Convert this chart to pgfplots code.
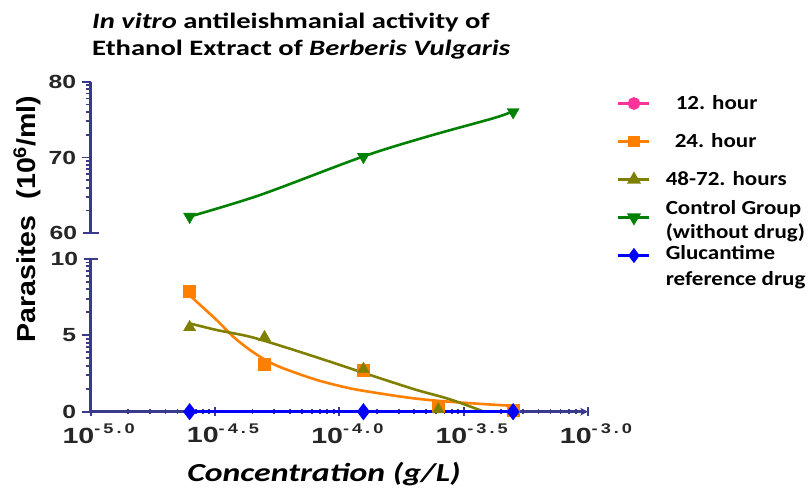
\documentclass[border=0pt]{standalone}
\usepackage{fontspec}
\setmainfont{Liberation Sans}
\newfontfamily\carl[FakeStretch=1.3]{Carlito}
\newfontfamily\carlleg[FakeStretch=1.15]{Carlito}
\newfontfamily\tickf[FakeStretch=1.3]{Liberation Sans}
\newfontfamily\ylabf[FakeStretch=1.1]{Liberation Sans}
\usepackage{pgfplots}
\pgfplotsset{compat=1.18}

\definecolor{navy}{RGB}{58,58,140}
\definecolor{c12}{RGB}{255,51,153}
\definecolor{c24}{RGB}{255,128,0}
\definecolor{c48}{RGB}{128,128,0}
\definecolor{cctl}{RGB}{0,128,0}
\definecolor{cglu}{RGB}{0,0,255}

% Prism style log label: 10^{-5.0}
\newcommand\expo[2]{10\raisebox{9.5pt}{\fontsize{14}{14}\selectfont-\hspace{3pt}#1\hspace{3pt}.\hspace{3pt}#2}}

\pgfplotsset{
  prism/.style={
    scale only axis, width=497.3pt, clip=false,
    xmin=1e-5, xmax=1e-3,
    axis y line=left,
    axis line style={navy, line width=2.4pt, -},
    x axis line style={-}, y axis line style={-},
    tick style={navy, line width=1.8pt},
    major tick length=9pt, minor tick length=5pt,
    tick align=outside,
    yticklabel style={font=\tickf\bfseries\fontsize{19}{19}\selectfont, text=black!85, xshift=-2pt},
    /pgf/number format/assume math mode=true,
  },
}

\begin{document}
\begin{tikzpicture}

% upper segment 60-80
\begin{semilogxaxis}[prism, at={(90.7pt,258.7pt)}, anchor=south west, height=151.6pt,
  ymin=60, ymax=80, axis x line=none,
  ytick={70,80},
  minor ytick={63.0103,64.7712,66.0206,66.9897,67.7815,68.4510,69.0309,69.5424,
               73.0103,74.7712,76.0206,76.9897,77.7815,78.4510,79.0309,79.5424},
  extra y ticks={60}, extra y tick style={tick align=center, major tick length=16pt},
  legend cell align=left,
  legend style={at={(axis description cs:1.0583,0.9004)}, anchor=north west,
    draw=none, fill=none, inner sep=0pt, row sep=25pt, column sep=15pt,
    nodes={inner sep=0pt, text height=13pt, text depth=0pt,
           font=\carlleg\bfseries\fontsize{20}{24}\selectfont}},
  legend image code/.code={\draw[mark repeat=2,mark phase=2,#1]
    plot coordinates {(0pt,0pt) (15.5pt,0pt) (31pt,0pt)};},
]
\addplot[cctl, line width=2.6pt, smooth, forget plot] coordinates {
  (2.492e-5,62.19) (4.8e-5,65.05) (1.239e-4,70.1) (2.247e-4,72.74) (4.152e-4,75.17) (4.95e-4,76.04)};
\addplot[cctl, only marks, mark=triangle*, mark size=7pt, mark options={rotate=180}, forget plot] coordinates {
  (2.5e-5,62.2) (1.25e-4,70.1) (5e-4,76.0)};

\addlegendimage{c12, line width=2.6pt, mark=*, mark size=5pt}
\addlegendentry{\hspace{10pt}12. hour}
\addlegendimage{c24, line width=2.6pt, mark=square*, mark size=4.5pt}
\addlegendentry{\hspace{9pt}24. hour}
\addlegendimage{c48, line width=2.6pt, mark=triangle*, mark size=5.5pt}
\addlegendentry{48-72. hours}
\addlegendimage{cctl, line width=2.6pt, mark=triangle*, mark size=5.5pt, mark options={rotate=180}}
\addlegendentry{\raisebox{9pt}{\begin{tabular}[t]{@{}l@{}}Control Group\\(without drug)\end{tabular}}}
\addlegendimage{cglu, line width=2.6pt, mark=diamond*, mark size=5.5pt}
\addlegendentry{\raisebox{2pt}{\begin{tabular}[t]{@{}l@{}}Glucantime\\[2pt]reference drug\end{tabular}}}
\end{semilogxaxis}

% lower segment 0-10
\begin{semilogxaxis}[prism, at={(90.7pt,80.3pt)}, anchor=south west, height=152.7pt,
  ymin=0, ymax=10, axis x line=bottom,
  ytick={0,5},
  minor ytick={1.5051,2.3856,3.0103,3.4949,3.8908,4.2255,4.5154,4.7712,
               6.5051,7.3856,8.0103,8.4949,8.8908,9.2255,9.5154,9.7712},
  extra y ticks={10}, extra y tick style={tick align=center, major tick length=14pt},
  xtick={1e-5,3.16228e-5,1e-4,3.16228e-4,1e-3},
  xticklabels={\expo{5}{0},\expo{4}{5},\expo{4}{0},\expo{3}{5},\expo{3}{0}},
  minor xtick={1.41421e-5,1.73205e-5,2e-5,2.23607e-5,2.44949e-5,2.64575e-5,2.82843e-5,3e-5,
               4.47214e-5,5.47723e-5,6.32456e-5,7.07107e-5,7.74597e-5,8.36660e-5,8.94427e-5,9.48683e-5,
               1.41421e-4,1.73205e-4,2e-4,2.23607e-4,2.44949e-4,2.64575e-4,2.82843e-4,3e-4,
               4.47214e-4,5.47723e-4,6.32456e-4,7.07107e-4,7.74597e-4,8.36660e-4,8.94427e-4,9.48683e-4},
  xticklabel style={font=\tickf\bfseries\fontsize{22}{22}\selectfont, text=black!85, anchor=north, xshift=8pt, yshift=-4pt},
]
% 12 hour (hidden under the reference drug)
\addplot[c12, only marks, mark=*, mark size=5pt] coordinates {(2.5e-5,0) (1.25e-4,0) (5e-4,0)};
% 24 hour: fitted curve and points
\addplot[c24, line width=2.6pt, smooth] coordinates {
  (2.492e-5,7.64) (3.211e-5,6.0) (3.746e-5,4.91) (4.373e-5,4.04) (5.105e-5,3.34) (5.953e-5,2.84)
  (8.11e-5,2.08) (1.104e-4,1.53) (1.503e-4,1.16) (2.048e-4,0.85) (2.788e-4,0.65) (3.795e-4,0.50) (5.01e-4,0.38)};
\addplot[c24, only marks, mark=square*, mark size=6pt] coordinates {
  (2.5e-5,7.86) (5e-5,3.12) (1.25e-4,2.73) (2.5e-4,0.39) (5e-4,0.12)};
% 48-72 hours: fitted curve and points
\addplot[c48, line width=2.6pt, smooth] coordinates {
  (2.492e-5,5.79) (3.211e-5,5.35) (4.373e-5,4.91) (5.953e-5,4.26) (8.11e-5,3.56) (1.104e-4,2.84)
  (1.503e-4,2.12) (2.048e-4,1.42) (2.788e-4,0.81) (3.75e-4,0.05)};
\addplot[c48, only marks, mark=triangle*, mark size=7pt] coordinates {
  (2.5e-5,5.53) (5e-5,4.87) (1.25e-4,2.78) (2.5e-4,0.15) (5e-4,0.05)};
% Glucantime reference drug
\addplot[cglu, line width=2.6pt, mark=diamond*, mark size=6.5pt] coordinates {
  (2.5e-5,0) (1.25e-4,0) (5e-4,0)};
\end{semilogxaxis}

\node[anchor=base west, inner sep=0pt] at (92pt,463.7pt)
  {\carl\bfseries\fontsize{22}{22}\selectfont\textit{In vitro} antileishmanial activity of};
\node[anchor=base west, inner sep=0pt] at (92pt,436.5pt)
  {\carl\bfseries\fontsize{22}{22}\selectfont Ethanol Extract of \textit{Berberis Vulgaris}};
\node[rotate=90, inner sep=0pt] at (27pt,273pt)
  {\ylabf\bfseries\fontsize{26}{26}\selectfont Parasites\ \ (10\textsuperscript{6}/ml)};
\node[anchor=base, inner sep=0pt] at (324pt,10.3pt)
  {\carl\bfseries\itshape\fontsize{26}{26}\selectfont Concentration (g/L)};

\pgfresetboundingbox
\useasboundingbox (0,0) rectangle (808pt,492pt);
\end{tikzpicture}
\end{document}
